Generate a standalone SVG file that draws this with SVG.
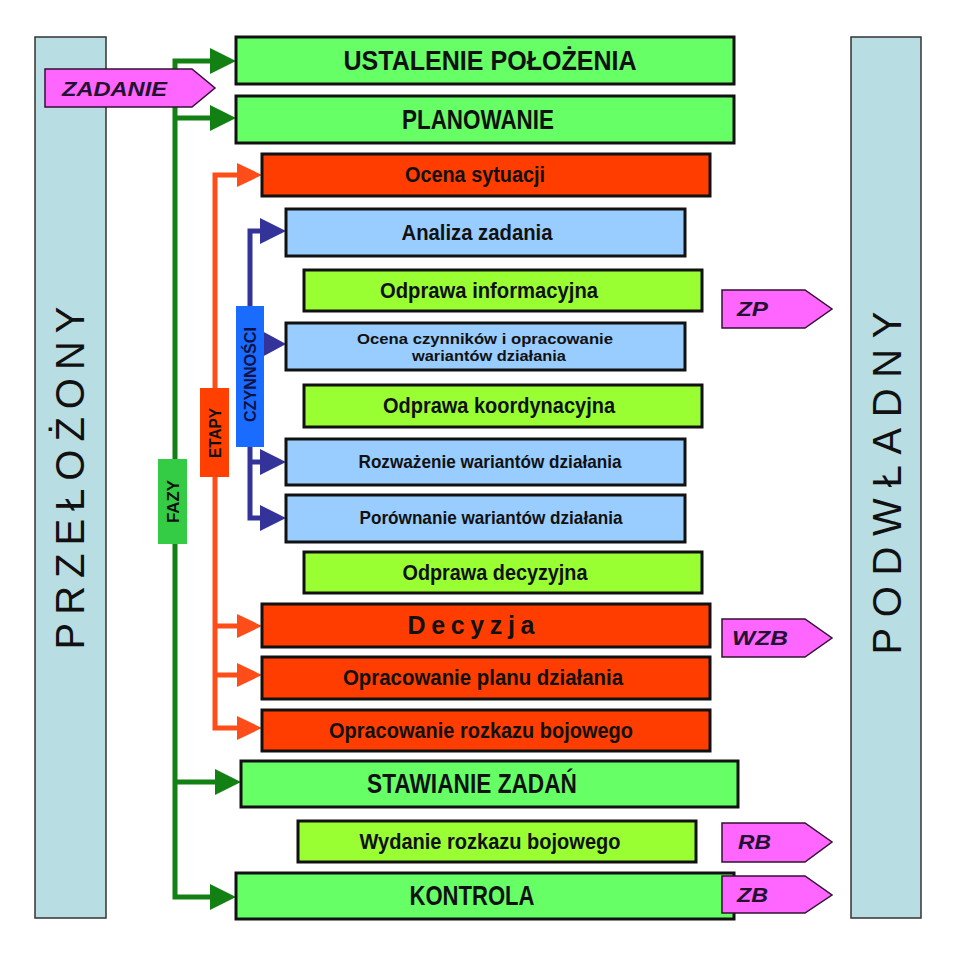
<svg xmlns="http://www.w3.org/2000/svg" width="957" height="957" viewBox="0 0 957 957">
<style>
.box{stroke:#111;stroke-width:3}
.ph{fill:#66ff66}
.st{fill:#ff3d00}
.ac{fill:#99ccff}
.br{fill:#99ff33}
.t{font-family:"Liberation Sans",Arial,sans-serif;font-weight:bold;fill:#111;text-anchor:middle}
.side{fill:#b8dde2;stroke:#333;stroke-width:1.5}
.sideT{font-family:"Liberation Sans",Arial,sans-serif;font-size:40px;fill:#111;text-anchor:middle}
.pk{fill:#ff66ff;stroke:#331133;stroke-width:1.5}
.pkT{font-family:"Liberation Sans",Arial,sans-serif;font-weight:bold;font-style:italic;font-size:21px;fill:#221133}
.g{stroke:#128012;stroke-width:5;fill:none}
.r{stroke:#ff4d1a;stroke-width:5;fill:none}
.b{stroke:#333399;stroke-width:5;fill:none}
</style>
<rect width="957" height="957" fill="#fff"/>
<g id="przelozony">
<rect class="side" x="35" y="37" width="71" height="881"/>
<text class="sideT" transform="translate(84,478) rotate(-90)" textLength="343" lengthAdjust="spacing">PRZEŁOŻONY</text>
</g>
<g id="podwladny">
<rect class="side" x="851" y="37" width="70" height="881"/>
<text class="sideT" transform="translate(901,483) rotate(-90)" textLength="343" lengthAdjust="spacing">PODWŁADNY</text>
</g>
<g id="connectors">
<path class="g" d="M212,61 H175 V897 H212 M175,118 H212 M175,782 H216"/>
<path d="M210,48 L236,61 L210,74Z M210,105 L236,118 L210,131Z M215,769 L241,782 L215,795Z M210,884 L236,897 L210,910Z" fill="#128012"/>
<path class="r" d="M239,175 H215 V728 H239 M215,626 H239 M215,675 H239"/>
<path d="M237,163 L262,175 L237,187Z M237,614 L262,626 L237,638Z M237,663 L262,675 L237,687Z M237,716 L262,728 L237,740Z" fill="#ff4d1a"/>
<path class="b" d="M262,231 H250 V518 H262 M250,462 H262"/>
<path d="M260,218 L286,231 L260,244Z M262,331 L286,344 L262,357Z M260,449 L286,462 L260,475Z M260,505 L286,518 L260,531Z" fill="#333399"/>
</g>
<g id="fazy">
<rect x="158" y="459" width="29" height="85" fill="#33cc44"/>
<text class="t" font-size="17" transform="translate(178.5,501.5) rotate(-90)" textLength="43" lengthAdjust="spacingAndGlyphs">FAZY</text>
</g>
<g id="etapy">
<rect x="200" y="388" width="29" height="89" fill="#ff4000"/>
<text class="t" font-size="17" transform="translate(220.5,433) rotate(-90)" textLength="50" lengthAdjust="spacingAndGlyphs">ETAPY</text>
</g>
<g id="czynnosci">
<rect x="236" y="306" width="28" height="141" fill="#1a6bff"/>
<text class="t" font-size="17" transform="translate(256,374.5) rotate(-90)" textLength="95" lengthAdjust="spacingAndGlyphs" style="fill:#111144">CZYNNOŚCI</text>
</g>
<g id="zadanie">
<path class="pk" d="M45,69 H192 L215,88 L192,107 H45Z"/>
<text class="pkT" x="62" y="96" textLength="105" lengthAdjust="spacingAndGlyphs">ZADANIE</text>
</g>
<g id="n1">
<rect class="box ph" x="236" y="37" width="498" height="47"/>
<text class="t" font-size="28" x="490" y="70" textLength="293" lengthAdjust="spacingAndGlyphs">USTALENIE POŁOŻENIA</text>
</g>
<g id="n2">
<rect class="box ph" x="236" y="96" width="498" height="47"/>
<text class="t" font-size="28" x="478" y="129" textLength="152" lengthAdjust="spacingAndGlyphs">PLANOWANIE</text>
</g>
<g id="n3">
<rect class="box st" x="262" y="154" width="448" height="42"/>
<text class="t" font-size="22" x="475" y="182" textLength="140" lengthAdjust="spacingAndGlyphs">Ocena sytuacji</text>
</g>
<g id="n4">
<rect class="box ac" x="286" y="209" width="399" height="47"/>
<text class="t" font-size="22" x="477" y="240" textLength="151" lengthAdjust="spacingAndGlyphs">Analiza zadania</text>
</g>
<g id="n5">
<rect class="box br" x="304" y="270" width="398" height="41"/>
<text class="t" font-size="22" x="489" y="298" textLength="218" lengthAdjust="spacingAndGlyphs">Odprawa informacyjna</text>
</g>
<g id="n6">
<rect class="box ac" x="286" y="323" width="399" height="47"/>
<text class="t" font-size="15" x="485" y="344" textLength="256" lengthAdjust="spacingAndGlyphs">Ocena czynników i opracowanie</text>
<text class="t" font-size="15" x="489" y="361" textLength="154" lengthAdjust="spacingAndGlyphs">wariantów działania</text>
</g>
<g id="n7">
<rect class="box br" x="304" y="385" width="398" height="42"/>
<text class="t" font-size="22" x="499" y="413" textLength="232" lengthAdjust="spacingAndGlyphs">Odprawa koordynacyjna</text>
</g>
<g id="n8">
<rect class="box ac" x="286" y="439" width="399" height="46"/>
<text class="t" font-size="19" x="490" y="468" textLength="263" lengthAdjust="spacingAndGlyphs">Rozważenie wariantów działania</text>
</g>
<g id="n9">
<rect class="box ac" x="286" y="495" width="399" height="47"/>
<text class="t" font-size="19" x="491" y="524" textLength="263" lengthAdjust="spacingAndGlyphs">Porównanie wariantów działania</text>
</g>
<g id="n10">
<rect class="box br" x="304" y="552" width="398" height="41"/>
<text class="t" font-size="22" x="495" y="580" textLength="185" lengthAdjust="spacingAndGlyphs">Odprawa decyzyjna</text>
</g>
<g id="n11">
<rect class="box st" x="262" y="604" width="448" height="43"/>
<text class="t" font-size="25" x="471" y="634" textLength="127" lengthAdjust="spacing">Decyzja</text>
</g>
<g id="n12">
<rect class="box st" x="262" y="657" width="448" height="42"/>
<text class="t" font-size="22" x="483" y="685" textLength="280" lengthAdjust="spacingAndGlyphs">Opracowanie planu działania</text>
</g>
<g id="n13">
<rect class="box st" x="262" y="710" width="448" height="41"/>
<text class="t" font-size="22" x="481" y="738" textLength="304" lengthAdjust="spacingAndGlyphs">Opracowanie rozkazu bojowego</text>
</g>
<g id="n14">
<rect class="box ph" x="241" y="761" width="497" height="46"/>
<text class="t" font-size="28" x="472" y="793" textLength="210" lengthAdjust="spacingAndGlyphs">STAWIANIE ZADAŃ</text>
</g>
<g id="n15">
<rect class="box br" x="298" y="821" width="398" height="41"/>
<text class="t" font-size="22" x="490" y="849" textLength="261" lengthAdjust="spacingAndGlyphs">Wydanie rozkazu bojowego</text>
</g>
<g id="n16">
<rect class="box ph" x="236" y="873" width="498" height="46"/>
<text class="t" font-size="28" x="472" y="905" textLength="125" lengthAdjust="spacingAndGlyphs">KONTROLA</text>
</g>
<g id="zp">
<path class="pk" d="M722,290 H805 L832,309 L805,328 H722Z"/>
<text class="pkT" x="737" y="316" textLength="31" lengthAdjust="spacingAndGlyphs">ZP</text>
</g>
<g id="wzb">
<path class="pk" d="M722,619 H805 L832,638 L805,657 H722Z"/>
<text class="pkT" x="732" y="645" textLength="56" lengthAdjust="spacingAndGlyphs">WZB</text>
</g>
<g id="rb">
<path class="pk" d="M722,823 H805 L832,842 L805,862 H722Z"/>
<text class="pkT" x="738" y="849" textLength="33" lengthAdjust="spacingAndGlyphs">RB</text>
</g>
<g id="zb">
<path class="pk" d="M722,876 H805 L832,895 L805,913 H722Z"/>
<text class="pkT" x="737" y="902" textLength="31" lengthAdjust="spacingAndGlyphs">ZB</text>
</g>
</svg>
